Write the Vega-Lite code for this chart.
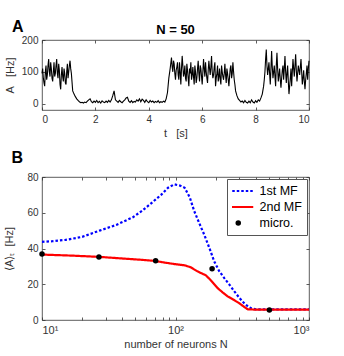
{
  "$schema": "https://vega.github.io/schema/vega-lite/v6.json",
  "padding": {"left": 3, "top": 18, "right": 4, "bottom": 4},
  "spacing": 10,
  "resolve": {"legend": {"color": "independent", "strokeDash": "independent"}},
  "config": {
    "font": "Liberation Sans",
    "view": {"stroke": "#333333", "strokeWidth": 0.8},
    "axis": {"grid": false, "domain": false, "tickColor": "#333333", "tickSize": -3, "tickWidth": 0.8, "labelPadding": 7, "labelColor": "#333333", "labelFontSize": 10, "labelFont": "Liberation Sans", "titleFont": "Liberation Sans", "titleFontWeight": "normal", "titleFontSize": 11, "titleColor": "#333333"},
    "title": {"font": "Liberation Sans", "color": "black", "fontWeight": "bold"}
  },
  "vconcat": [
    {
      "title": {"text": "A", "anchor": "start", "fontSize": 16, "dx": 8, "dy": 13, "offset": 2},
      "vconcat": [
        {
          "width": 267,
          "height": 70,
          "title": {"text": "N = 50", "fontSize": 13, "offset": -2},
          "data": {"values": [
            {"t":0.00,"a":95},{"t":0.05,"a":80},{"t":0.10,"a":55},{"t":0.15,"a":120},{"t":0.20,"a":90},{"t":0.25,"a":140},{"t":0.30,"a":85},{"t":0.35,"a":110},{"t":0.40,"a":70},{"t":0.45,"a":130},
            {"t":0.50,"a":95},{"t":0.55,"a":140},{"t":0.60,"a":80},{"t":0.65,"a":105},{"t":0.70,"a":45},{"t":0.75,"a":115},{"t":0.80,"a":70},{"t":0.85,"a":95},{"t":0.90,"a":60},{"t":0.95,"a":125},
            {"t":1.00,"a":100},{"t":1.05,"a":135},{"t":1.10,"a":95},{"t":1.15,"a":40},{"t":1.20,"a":30},{"t":1.25,"a":22},{"t":1.30,"a":15},{"t":1.35,"a":10},{"t":1.40,"a":6},{"t":1.45,"a":3},
            {"t":1.50,"a":4},{"t":1.55,"a":2},{"t":1.60,"a":5},{"t":1.65,"a":3},{"t":1.70,"a":8},{"t":1.75,"a":12},{"t":1.80,"a":15},{"t":1.85,"a":6},{"t":1.90,"a":3},{"t":1.95,"a":8},
            {"t":2.00,"a":4},{"t":2.05,"a":10},{"t":2.10,"a":3},{"t":2.15,"a":7},{"t":2.20,"a":2},{"t":2.25,"a":9},{"t":2.30,"a":5},{"t":2.35,"a":3},{"t":2.40,"a":8},{"t":2.45,"a":4},
            {"t":2.50,"a":10},{"t":2.55,"a":5},{"t":2.60,"a":12},{"t":2.65,"a":25},{"t":2.70,"a":40},{"t":2.75,"a":12},{"t":2.80,"a":8},{"t":2.85,"a":4},{"t":2.90,"a":10},{"t":2.95,"a":6},
            {"t":3.00,"a":3},{"t":3.05,"a":8},{"t":3.10,"a":12},{"t":3.15,"a":18},{"t":3.20,"a":20},{"t":3.25,"a":8},{"t":3.30,"a":4},{"t":3.35,"a":9},{"t":3.40,"a":3},{"t":3.45,"a":7},
            {"t":3.50,"a":5},{"t":3.55,"a":12},{"t":3.60,"a":8},{"t":3.65,"a":15},{"t":3.70,"a":6},{"t":3.75,"a":14},{"t":3.80,"a":10},{"t":3.85,"a":4},{"t":3.90,"a":12},{"t":3.95,"a":6},
            {"t":4.00,"a":3},{"t":4.05,"a":10},{"t":4.10,"a":5},{"t":4.15,"a":8},{"t":4.20,"a":3},{"t":4.25,"a":7},{"t":4.30,"a":4},{"t":4.35,"a":9},{"t":4.40,"a":3},{"t":4.45,"a":6},
            {"t":4.50,"a":4},{"t":4.55,"a":8},{"t":4.60,"a":5},{"t":4.65,"a":15},{"t":4.70,"a":35},{"t":4.75,"a":80},{"t":4.80,"a":110},{"t":4.85,"a":145},{"t":4.90,"a":100},{"t":4.95,"a":125},
            {"t":5.00,"a":75},{"t":5.05,"a":115},{"t":5.10,"a":90},{"t":5.15,"a":130},{"t":5.20,"a":60},{"t":5.25,"a":150},{"t":5.30,"a":85},{"t":5.35,"a":120},{"t":5.40,"a":70},{"t":5.45,"a":105},
            {"t":5.50,"a":55},{"t":5.55,"a":95},{"t":5.60,"a":75},{"t":5.65,"a":115},{"t":5.70,"a":60},{"t":5.75,"a":100},{"t":5.80,"a":80},{"t":5.85,"a":135},{"t":5.90,"a":70},{"t":5.95,"a":110},
            {"t":6.00,"a":60},{"t":6.05,"a":140},{"t":6.10,"a":85},{"t":6.15,"a":100},{"t":6.20,"a":65},{"t":6.25,"a":135},{"t":6.30,"a":90},{"t":6.35,"a":150},{"t":6.40,"a":80},{"t":6.45,"a":115},
            {"t":6.50,"a":55},{"t":6.55,"a":95},{"t":6.60,"a":70},{"t":6.65,"a":110},{"t":6.70,"a":60},{"t":6.75,"a":100},{"t":6.80,"a":75},{"t":6.85,"a":125},{"t":6.90,"a":65},{"t":6.95,"a":95},
            {"t":7.00,"a":55},{"t":7.05,"a":110},{"t":7.10,"a":80},{"t":7.15,"a":130},{"t":7.20,"a":75},{"t":7.25,"a":40},{"t":7.30,"a":25},{"t":7.35,"a":15},{"t":7.40,"a":10},{"t":7.45,"a":5},
            {"t":7.50,"a":8},{"t":7.55,"a":3},{"t":7.60,"a":10},{"t":7.65,"a":4},{"t":7.70,"a":2},{"t":7.75,"a":8},{"t":7.80,"a":3},{"t":7.85,"a":12},{"t":7.90,"a":5},{"t":7.95,"a":2},
            {"t":8.00,"a":9},{"t":8.05,"a":4},{"t":8.10,"a":12},{"t":8.15,"a":8},{"t":8.20,"a":18},{"t":8.25,"a":30},{"t":8.30,"a":55},{"t":8.35,"a":100},{"t":8.40,"a":170},{"t":8.45,"a":90},
            {"t":8.50,"a":130},{"t":8.55,"a":60},{"t":8.60,"a":165},{"t":8.65,"a":80},{"t":8.70,"a":120},{"t":8.75,"a":55},{"t":8.80,"a":160},{"t":8.85,"a":70},{"t":8.90,"a":110},{"t":8.95,"a":50},
            {"t":9.00,"a":105},{"t":9.05,"a":75},{"t":9.10,"a":150},{"t":9.15,"a":65},{"t":9.20,"a":120},{"t":9.25,"a":30},{"t":9.30,"a":80},{"t":9.35,"a":55},{"t":9.40,"a":140},{"t":9.45,"a":85},
            {"t":9.50,"a":155},{"t":9.55,"a":70},{"t":9.60,"a":120},{"t":9.65,"a":90},{"t":9.70,"a":140},{"t":9.75,"a":60},{"t":9.80,"a":105},{"t":9.85,"a":45},{"t":9.90,"a":95},{"t":9.95,"a":75},
            {"t":10.00,"a":135},
            {"t":0.025,"a":110},{"t":0.075,"a":65},{"t":0.125,"a":100},{"t":0.175,"a":75},{"t":0.225,"a":120},{"t":0.275,"a":100},{"t":0.325,"a":130},{"t":0.375,"a":80},{"t":0.425,"a":100},{"t":0.475,"a":85},
            {"t":0.525,"a":120},{"t":0.575,"a":95},{"t":0.625,"a":125},{"t":0.675,"a":60},{"t":0.725,"a":90},{"t":0.775,"a":85},{"t":0.825,"a":110},{"t":0.875,"a":65},{"t":0.925,"a":100},{"t":0.975,"a":80},
            {"t":1.025,"a":120},{"t":1.075,"a":110},
            {"t":4.875,"a":115},{"t":4.925,"a":135},{"t":4.975,"a":95},{"t":5.025,"a":105},{"t":5.075,"a":130},{"t":5.125,"a":75},{"t":5.175,"a":100},{"t":5.225,"a":110},{"t":5.275,"a":120},{"t":5.325,"a":95},
            {"t":5.375,"a":80},{"t":5.425,"a":125},{"t":5.475,"a":80},{"t":5.525,"a":110},{"t":5.575,"a":130},{"t":5.625,"a":90},{"t":5.675,"a":85},{"t":5.725,"a":120},{"t":5.775,"a":65},{"t":5.825,"a":110},
            {"t":5.875,"a":95},{"t":5.925,"a":120},{"t":5.975,"a":85},{"t":6.025,"a":100},{"t":6.075,"a":110},{"t":6.125,"a":130},{"t":6.175,"a":80},{"t":6.225,"a":105},{"t":6.275,"a":110},{"t":6.325,"a":115},
            {"t":6.375,"a":100},{"t":6.425,"a":90},{"t":6.475,"a":130},{"t":6.525,"a":80},{"t":6.575,"a":120},{"t":6.625,"a":85},{"t":6.675,"a":75},{"t":6.725,"a":120},{"t":6.775,"a":85},{"t":6.825,"a":95},
            {"t":6.875,"a":90},{"t":6.925,"a":110},{"t":6.975,"a":75},{"t":7.025,"a":85},{"t":7.075,"a":120},{"t":7.125,"a":95},{"t":7.175,"a":100},{"t":7.225,"a":60},
            {"t":8.325,"a":75},{"t":8.375,"a":140},{"t":8.425,"a":120},{"t":8.475,"a":110},{"t":8.525,"a":95},{"t":8.575,"a":110},{"t":8.625,"a":115},{"t":8.675,"a":100},{"t":8.725,"a":85},{"t":8.775,"a":120},
            {"t":8.825,"a":110},{"t":8.875,"a":90},{"t":8.925,"a":75},{"t":8.975,"a":80},{"t":9.025,"a":120},{"t":9.075,"a":110},{"t":9.125,"a":100},{"t":9.175,"a":95},{"t":9.225,"a":70},{"t":9.275,"a":55},
            {"t":9.325,"a":110},{"t":9.375,"a":100},{"t":9.425,"a":110},{"t":9.475,"a":120},{"t":9.525,"a":105},{"t":9.575,"a":95},{"t":9.625,"a":105},{"t":9.675,"a":115},{"t":9.725,"a":100},{"t":9.775,"a":80},
            {"t":9.825,"a":70},{"t":9.875,"a":75},{"t":9.925,"a":120},{"t":9.975,"a":110}
          ]},
          "layer": [
            {
              "mark": {"type": "line", "color": "black", "strokeWidth": 1.1},
              "encoding": {
                "x": {"field": "t", "type": "quantitative", "scale": {"domain": [0, 10], "nice": false}, "axis": {"values": [0, 2, 4, 6, 8, 10], "title": "t\u00a0\u00a0\u00a0[s]", "titlePadding": 3}},
                "y": {"field": "a", "type": "quantitative", "scale": {"domain": [-20, 200], "nice": false}, "axis": {"values": [0, 100, 200], "title": "A\u00a0\u00a0\u00a0[Hz]", "titlePadding": 6}}
              }
            },
            {
              "mark": {"type": "line", "opacity": 0},
              "encoding": {
                "x": {"field": "t", "type": "quantitative", "axis": {"orient": "top", "values": [0, 2, 4, 6, 8, 10], "labels": false, "title": null}},
                "y": {"field": "a", "type": "quantitative", "axis": {"orient": "right", "values": [0, 100, 200], "labels": false, "title": null}}
              }
            }
          ],
          "resolve": {"axis": {"x": "independent", "y": "independent"}}
        }
      ]
    },
    {
      "title": {"text": "B", "anchor": "start", "fontSize": 16, "dx": 8, "offset": 6},
      "resolve": {"legend": {"color": "independent", "strokeDash": "independent"}},
      "vconcat": [
        {
          "width": 267,
          "height": 143,
          "layer": [
            {
              "data": {"values": [
                {"N":10,"v":43.7,"s":"1st MF"},{"N":12,"v":44.1,"s":"1st MF"},{"N":15,"v":44.8,"s":"1st MF"},{"N":20,"v":46.5,"s":"1st MF"},{"N":27,"v":50,"s":"1st MF"},{"N":36,"v":53.2,"s":"1st MF"},{"N":48,"v":57.5,"s":"1st MF"},{"N":56,"v":61,"s":"1st MF"},{"N":65,"v":65,"s":"1st MF"},{"N":78,"v":70,"s":"1st MF"},{"N":88,"v":74,"s":"1st MF"},{"N":98,"v":75.9,"s":"1st MF"},{"N":108,"v":75.2,"s":"1st MF"},{"N":117,"v":74,"s":"1st MF"},{"N":128,"v":68.5,"s":"1st MF"},{"N":138,"v":61,"s":"1st MF"},{"N":150,"v":54.5,"s":"1st MF"},{"N":164,"v":47.8,"s":"1st MF"},{"N":180,"v":40,"s":"1st MF"},{"N":195,"v":32.8,"s":"1st MF"},{"N":212,"v":27.5,"s":"1st MF"},{"N":232,"v":23.4,"s":"1st MF"},{"N":255,"v":19.5,"s":"1st MF"},{"N":276,"v":16,"s":"1st MF"},{"N":300,"v":12.5,"s":"1st MF"},{"N":327,"v":9.4,"s":"1st MF"},{"N":350,"v":7.5,"s":"1st MF"},{"N":368,"v":6.6,"s":"1st MF"},{"N":400,"v":6,"s":"1st MF"},{"N":500,"v":6,"s":"1st MF"},{"N":1000,"v":6,"s":"1st MF"},
                {"N":10,"v":36.6,"s":"2nd MF"},{"N":17,"v":36,"s":"2nd MF"},{"N":27,"v":35.3,"s":"2nd MF"},{"N":42,"v":34.3,"s":"2nd MF"},{"N":55,"v":33.7,"s":"2nd MF"},{"N":71,"v":33,"s":"2nd MF"},{"N":85,"v":32,"s":"2nd MF"},{"N":98,"v":31.3,"s":"2nd MF"},{"N":117,"v":30.6,"s":"2nd MF"},{"N":130,"v":29.5,"s":"2nd MF"},{"N":146,"v":27.2,"s":"2nd MF"},{"N":169,"v":25,"s":"2nd MF"},{"N":185,"v":22,"s":"2nd MF"},{"N":207,"v":17.8,"s":"2nd MF"},{"N":225,"v":15.5,"s":"2nd MF"},{"N":246,"v":13.2,"s":"2nd MF"},{"N":270,"v":11.5,"s":"2nd MF"},{"N":300,"v":9.4,"s":"2nd MF"},{"N":325,"v":7.5,"s":"2nd MF"},{"N":347,"v":6,"s":"2nd MF"},{"N":400,"v":5.8,"s":"2nd MF"},{"N":1000,"v":5.8,"s":"2nd MF"}
              ]},
              "mark": {"type": "line", "strokeWidth": 2.2},
              "encoding": {
                "x": {"field": "N", "type": "quantitative", "scale": {"type": "log", "domain": [10, 1000], "nice": false}, "axis": {"values": [10,20,30,40,50,60,70,80,90,100,200,300,400,500,600,700,800,900,1000], "labelExpr": "datum.value == 10 ? '10¹' : datum.value == 100 ? '10²' : datum.value == 1000 ? '10³' : ''", "labelFontSize": 11, "title": "number of neurons N", "titlePadding": 3}},
                "y": {"field": "v", "type": "quantitative", "scale": {"domain": [0, 80], "nice": false}, "axis": {"values": [0, 20, 40, 60, 80], "title": "⟨A⟩ₜ\u00a0\u00a0[Hz]", "titlePadding": 12}},
                "color": {"field": "s", "type": "nominal", "scale": {"domain": ["1st MF", "2nd MF", "micro."], "range": ["#0000ff", "#ff0000", "#000000"]},
                  "legend": {"title": null, "orient": "top-right", "offset": 2, "strokeColor": "#555555", "fillColor": "white", "padding": 5, "clipHeight": 14, "rowPadding": 2, "symbolSize": 900, "labelFontSize": 12.5, "labelColor": "black", "labelOffset": 15,
                    "encode": {"symbols": {"update": {
                      "shape": {"signal": "datum.value === 'micro.' ? 'circle' : 'stroke'"},
                      "size": {"signal": "datum.value === 'micro.' ? 30 : 900"},
                      "fill": {"signal": "datum.value === 'micro.' ? 'black' : 'transparent'"},
                      "stroke": {"signal": "datum.value === '1st MF' ? '#0000ff' : datum.value === '2nd MF' ? '#ff0000' : 'black'"},
                      "strokeWidth": {"signal": "datum.value === 'micro.' ? 0 : 2.2"},
                      "strokeDash": {"signal": "datum.value === '1st MF' ? [2.5, 2] : [1, 0]"},
                      "opacity": {"value": 1}
                    }}}}},
                "strokeDash": {"field": "s", "type": "nominal", "scale": {"domain": ["1st MF", "2nd MF"], "range": [[2.5, 2], [1, 0]]}, "legend": null}
              }
            },
            {
              "data": {"values": [
                {"N":10,"v":36.9,"s":"micro."},{"N":26.7,"v":35.2,"s":"micro."},{"N":71,"v":33.2,"s":"micro."},{"N":188,"v":28.7,"s":"micro."},{"N":505,"v":5.6,"s":"micro."}
              ]},
              "mark": {"type": "point", "filled": true, "size": 30, "opacity": 1},
              "encoding": {
                "x": {"field": "N", "type": "quantitative", "axis": null},
                "y": {"field": "v", "type": "quantitative", "axis": null},
                "color": {"field": "s", "type": "nominal"}
              }
            },
            {
              "data": {"values": [{"N":10,"v":0},{"N":1000,"v":80}]},
              "mark": {"type": "point", "opacity": 0},
              "encoding": {
                "x": {"field": "N", "type": "quantitative", "axis": {"orient": "top", "values": [10,20,30,40,50,60,70,80,90,100,200,300,400,500,600,700,800,900,1000], "labels": false, "title": null}},
                "y": {"field": "v", "type": "quantitative", "axis": {"orient": "right", "values": [0, 20, 40, 60, 80], "labels": false, "title": null}}
              }
            }
          ],
          "resolve": {"axis": {"x": "independent", "y": "independent"}}
        }
      ]
    }
  ]
}
